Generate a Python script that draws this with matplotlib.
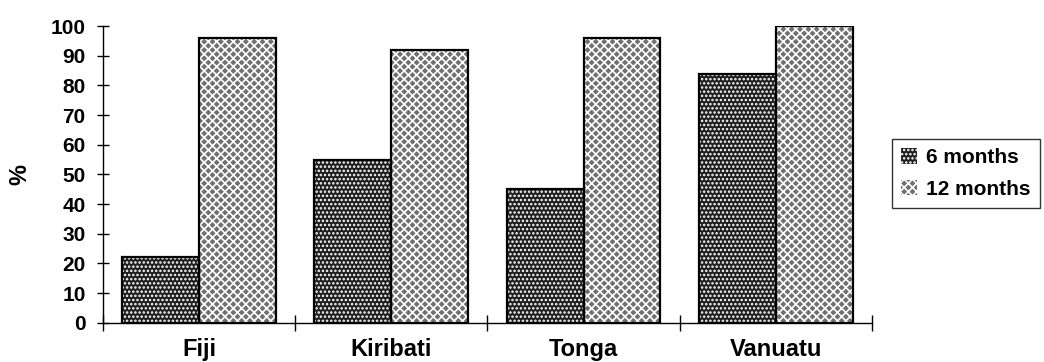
import matplotlib.pyplot as plt
import numpy as np

# values
countries = ["Fiji", "Kiribati", "Tonga", "Vanuatu"]
six_months = [22, 55, 45, 84]
twelve_months = [96, 92, 96, 100]
series_labels = ["6 months", "12 months"]
yticks = list(range(0, 101, 10))

plt.rcParams['font.family'] = ['Liberation Sans', 'DejaVu Sans']
plt.rcParams['font.weight'] = 'bold'
plt.rcParams['hatch.linewidth'] = 1.2

fig = plt.figure(figsize=(10.44, 3.62), dpi=100)
ax = fig.add_axes([0.0987, 0.1086, 0.7365, 0.8194])

x = np.arange(len(countries))
w = 0.4
# patterned fills (hatch drawn in white over dark grey / mid grey)
ax.bar(x + 0.1, six_months, w, align='edge', color='#1e1e1e', edgecolor='white',
       hatch='....', linewidth=0, label=series_labels[0])
ax.bar(x + 0.5, twelve_months, w, align='edge', color='#707070', edgecolor='white',
       hatch='xxxx', linewidth=0, label=series_labels[1])
# black outlines
ax.bar(x + 0.1, six_months, w, align='edge', fill=False, edgecolor='black', linewidth=1.6)
ax.bar(x + 0.5, twelve_months, w, align='edge', fill=False, edgecolor='black', linewidth=1.6)

ax.set_xlim(0, len(countries))
ax.set_ylim(0, 100)
ax.set_yticks(yticks)
ax.set_xticks(range(len(countries) + 1))
ax.set_xticklabels([])
ax.set_xticks(x + 0.5, minor=True)
ax.set_xticklabels(countries, minor=True)
ax.tick_params(axis='x', which='major', direction='inout', length=11, width=1)
ax.tick_params(axis='x', which='minor', length=0, pad=11, labelsize=17)
ax.tick_params(axis='y', direction='inout', length=9, width=1, labelsize=15, pad=8)

for s in ['top', 'right']:
    ax.spines[s].set_visible(False)
ax.spines['left'].set_linewidth(1)
ax.spines['bottom'].set_linewidth(1)

fig.text(0.019, 0.517, "%", rotation=90, fontsize=17, ha='center', va='center')

leg = ax.legend(loc='center left', bbox_to_anchor=(1.012, 0.503), frameon=True,
                fancybox=False, edgecolor='black', fontsize=15, handlelength=0.75,
                handleheight=0.75, handletextpad=0.45, borderpad=0.45, labelspacing=0.6)
leg.get_frame().set_linewidth(1)
for h in leg.legend_handles:
    h.set_edgecolor('white')

fig.savefig("out.png", dpi=100)
